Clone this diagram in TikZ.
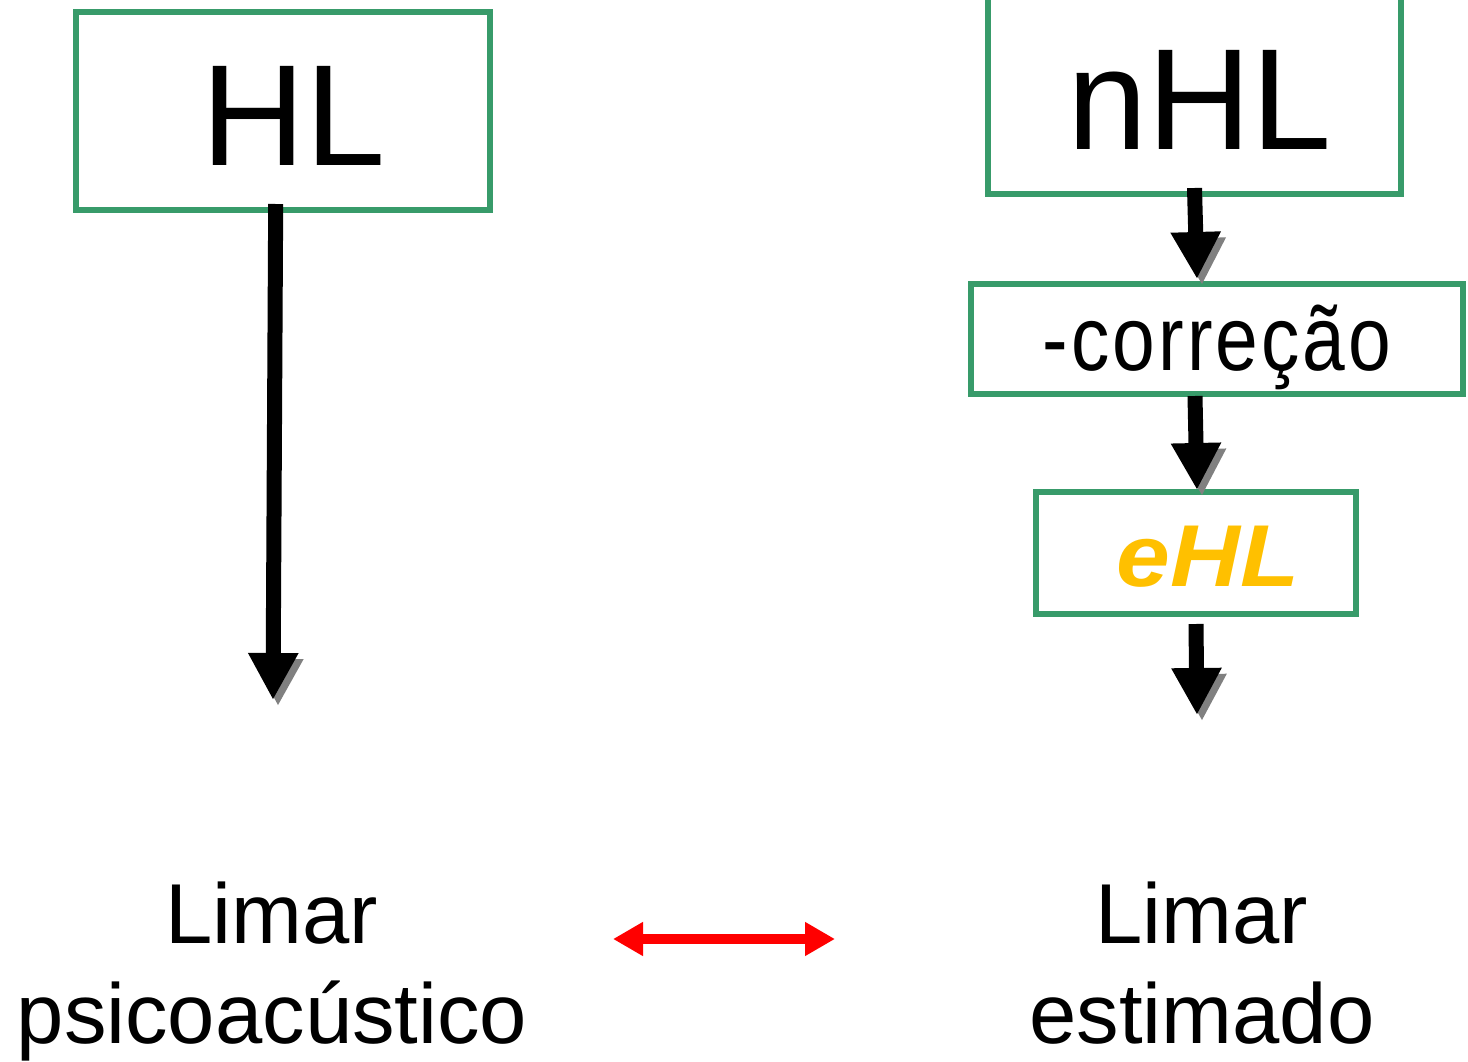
\documentclass[tikz,border=0pt]{standalone}
\usepackage{fontspec}
\setmainfont{Liberation Sans}
\usetikzlibrary{arrows.meta}
\definecolor{boxgreen}{RGB}{56,155,106}
\definecolor{ehlgold}{RGB}{255,192,0}
\tikzset{
	greenbox/.style={draw=boxgreen,line width=0.06cm,inner sep=0pt,outer sep=0pt,text depth=0cm},
	flow/.style={line width=0.15cm,-{Triangle[width=0.47cm,length=0.47cm]},
		preaction={draw=gray,transform canvas={shift={(0.05,-0.06)}}}},
	lbl/.style={align=center,inner sep=0pt,anchor=north,font=\fontsize{24.2}{28.45}\selectfont},
}

\begin{document}
\begin{tikzpicture}
	\useasboundingbox (0,0) rectangle (14.68,10.61);
	\node[greenbox,minimum width=4.14cm,minimum height=1.98cm,text height=1.08cm,font=\fontsize{41}{41}\selectfont] (HL) at (2.827,9.50) {\hspace*{0.22cm}HL};
	\node[greenbox,minimum width=4.13cm,minimum height=2.04cm,text height=1.14cm,font=\fontsize{41}{41}\selectfont] (nHL) at (11.945,9.69) {\hspace*{0.11cm}nHL};
	\node[greenbox,minimum width=4.92cm,minimum height=1.10cm,text height=0.62cm,font=\fontsize{26}{26}\selectfont\addfontfeature{LetterSpace=4}] (corr) at (12.17,7.22) {\scalebox{0.84}[1]{-correção}};
	\node[greenbox,minimum width=3.20cm,minimum height=1.22cm,text height=0.66cm,text=ehlgold,font=\fontsize{25}{25}\selectfont\bfseries\itshape] (eHL) at (11.96,5.08) {\hspace*{0.24cm}\scalebox{1.1}[1]{eHL}};
	\coordinate (endHL) at (2.73,3.61);
	\coordinate (end1) at (11.97,7.82);
	\coordinate (end2) at (11.97,5.71);
	\coordinate (end3) at (11.97,3.46);
	\draw[flow] ([xshift=-0.07cm,yshift=0.06cm]HL.south) -- (endHL);
	\draw[flow] ([yshift=0.06cm]nHL.south) -- (end1);
	\draw[flow] ([xshift=-0.22cm,yshift=-0.02cm]corr.south) -- (end2);
	\draw[flow] ([yshift=-0.10cm]eHL.south) -- (end3);
	\node[lbl] (limarA) at (2.72,1.80) {Limar\\psicoacústico};
	\node[lbl] (limarB) at (12.02,1.80) {Limar\\estimado};
	\coordinate (redL) at (6.13,1.22);
	\coordinate (redR) at (8.35,1.22);
	\draw[red,line width=0.10cm,{Triangle[width=0.32cm,length=0.30cm]}-{Triangle[width=0.32cm,length=0.30cm]}] (redL) -- (redR);
\end{tikzpicture}
\end{document}
